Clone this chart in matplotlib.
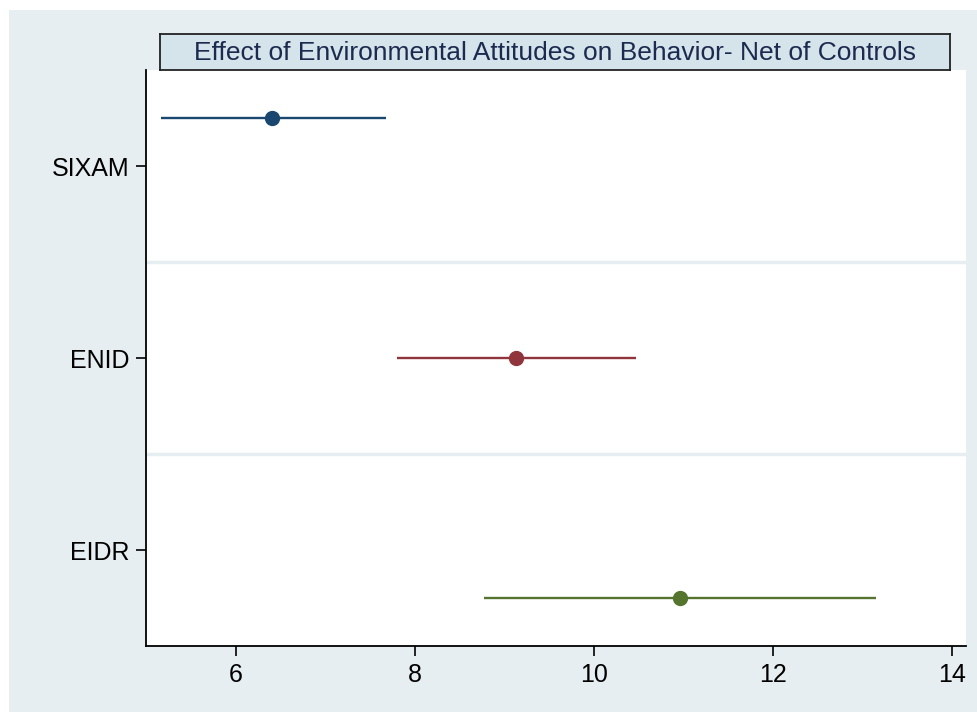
import matplotlib.pyplot as plt
from matplotlib.patches import Rectangle

plt.rcParams['font.family'] = ['Liberation Sans', 'DejaVu Sans']

# coefficient estimates with 95% CI
labels = ["SIXAM", "ENID", "EIDR"]
coefs = [6.41, 9.13, 10.97]
ci_low = [5.17, 7.80, 8.78]
ci_high = [7.68, 10.47, 13.15]
offsets = [-0.25, 0.0, 0.25]   # each model sits at its own offset within its row
colors = ["#1a476f", "#90353b", "#55752f"]

bg = "#e6eef1"

fig = plt.figure(figsize=(9.77, 7.12), dpi=100)
fig.patch.set_facecolor("white")
# the bluish-gray graph region, with a thin white margin top/left
fig.patches.append(Rectangle((9 / 977, 0), 1, 1 - 10 / 712, transform=fig.transFigure,
                             facecolor=bg, edgecolor="none", zorder=-10))

ax = fig.add_axes([146 / 977, 1 - 646 / 712, 820 / 977, 576 / 712])
ax.set_facecolor("white")

for i in range(len(labels)):
    y = i + 1 + offsets[i]
    ax.plot([ci_low[i], ci_high[i]], [y, y], color=colors[i], lw=1.7, solid_capstyle="butt", zorder=3)
    ax.plot(coefs[i], y, "o", color=colors[i], ms=10, zorder=4)

# row separators
for b in [1.5, 2.5]:
    ax.axhline(b, color="#e6eef1", lw=2.5, zorder=1)

ax.set_xlim(5.0, 14.16)
ax.set_ylim(3.5, 0.5)
ax.set_xticks([6, 8, 10, 12, 14])
ax.set_yticks([1, 2, 3])
ax.set_yticklabels(labels)
ax.tick_params(axis="both", labelsize=18, length=7, width=1.2, color="black", pad=5)
ax.spines["top"].set_visible(False)
ax.spines["right"].set_visible(False)
ax.spines["left"].set_linewidth(1.3)
ax.spines["bottom"].set_linewidth(1.3)

# title in a shaded box
tax = fig.add_axes([160 / 977, 1 - 70 / 712, 790 / 977, 36 / 712])
tax.set_facecolor("#d5e3ea")
tax.set_xticks([])
tax.set_yticks([])
for s in tax.spines.values():
    s.set_linewidth(1.3)
    s.set_color("#222222")
tax.text(0.5, 0.47, "Effect of Environmental Attitudes on Behavior- Net of Controls",
         ha="center", va="center", fontsize=19, color="#1c2a50", transform=tax.transAxes)

fig.savefig("out.png", dpi=100)
